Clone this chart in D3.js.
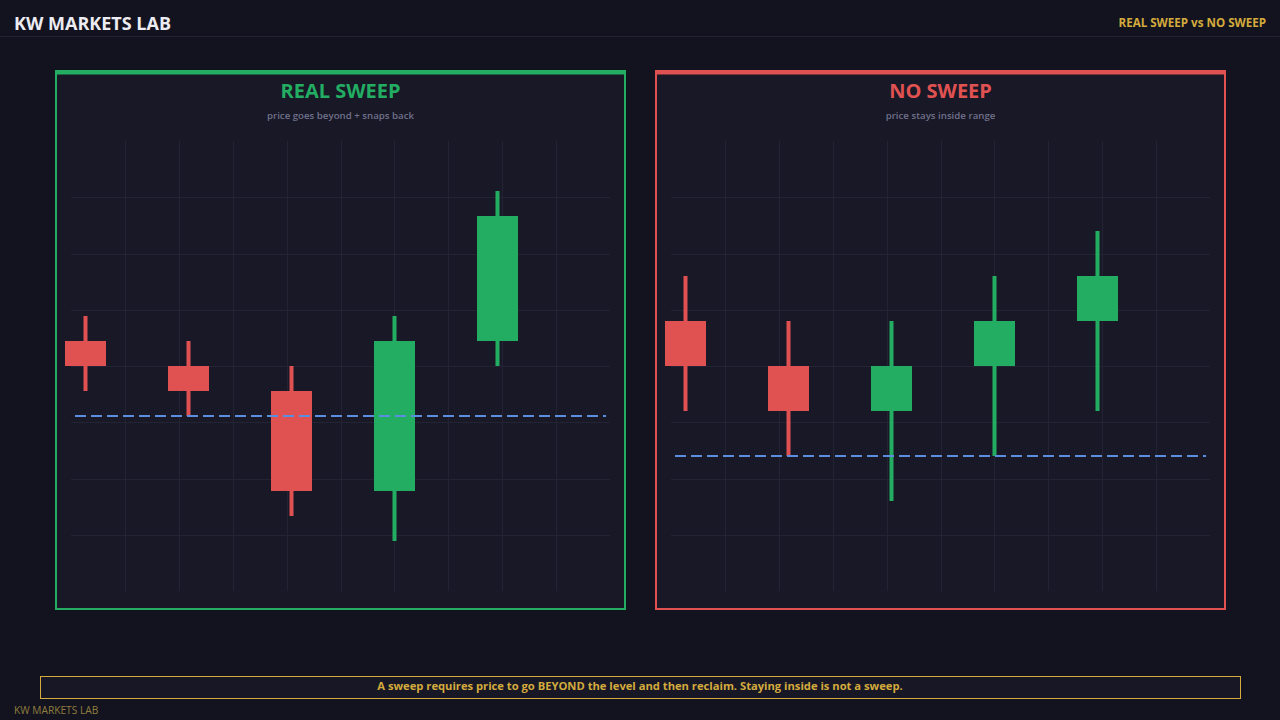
<!DOCTYPE html>
<html lang="en">
<head>
    <meta charset="UTF-8">
    <title>Real Sweep vs No Sweep</title>
    <style>
        body{
            margin: 0;
            background: #13131f;
        }
        svg{
            display: block;
            font-family: "Open Sans", "Noto Sans", sans-serif;
        }
    </style>
    <script src="https://cdn.jsdelivr.net/npm/d3@7"></script>
</head>
<body>
<script>
    // candles, index 0..4, values in price units
    const candleIdx = [0, 1, 2, 3, 4]

    const realOpen  = [103, 102, 101, 97, 103]
    const realClose = [102, 101, 97, 103, 108]
    const realHigh  = [104, 103, 102, 104, 109]
    const realLow   = [101, 100, 96, 95, 102]
    const realLevel = 100

    const noOpen  = [103, 102, 101, 102, 103]
    const noClose = [102, 101, 102, 103, 104]
    const noHigh  = [104, 103, 103, 104, 105]
    const noLow   = [101, 100, 99, 100, 101]
    const noLevel = 100

    const panelTitles = ["REAL SWEEP", "NO SWEEP"]
    const panelSubs = ["price goes beyond + snaps back", "price stays inside range"]

    const width = 1280
    const height = 720
    const green = "#22ad63"
    const red = "#e05252"
    const gold = "#d4ab3c"

    let svg = d3.select("body").append("svg")
        .attr("width", width)
        .attr("height", height)
        .attr("viewBox", `0 0 ${width} ${height}`)

    svg.append("rect").attr("width", width).attr("height", height).attr("fill", "#13131f")

    // header
    svg.append("text")
        .attr("x", 14).attr("y", 30)
        .attr("fill", "#ececf2")
        .attr("font-size", 18).attr("font-weight", 700)
        .text("KW MARKETS LAB")
    svg.append("text")
        .attr("x", 1266).attr("y", 27)
        .attr("text-anchor", "end")
        .attr("fill", gold)
        .attr("font-size", 11.6).attr("font-weight", 700)
        .text("REAL SWEEP vs NO SWEEP")
    svg.append("line")
        .attr("x1", 0).attr("x2", width)
        .attr("y1", 36.5).attr("y2", 36.5)
        .attr("stroke", "#222234")

    const panelW = 571
    const panelH = 540
    const plotTop = 141
    const plotBottom = 591

    const panels = [
        {title: panelTitles[0], sub: panelSubs[0], color: green, left: 55,
         o: realOpen, c: realClose, h: realHigh, l: realLow, level: realLevel},
        {title: panelTitles[1], sub: panelSubs[1], color: red, left: 655,
         o: noOpen, c: noClose, h: noHigh, l: noLow, level: noLevel}
    ]

    let gridX = d3.scaleLinear().domain([0, 10]).range([16, 555])
    let gridY = d3.scaleLinear().domain([0, 8]).range([plotTop, plotBottom])
    let x = d3.scaleLinear().domain([0, 4]).range([30.5, 442.5])
    const bodyW = 41
    const wickW = 4

    panels.forEach(p => {
        let g = svg.append("g").attr("transform", `translate(${p.left},70)`)

        g.append("rect")
            .attr("x", 1).attr("y", 1)
            .attr("width", panelW - 2).attr("height", panelH - 2)
            .attr("fill", "#181826")
            .attr("stroke", p.color).attr("stroke-width", 2)
        g.append("rect")
            .attr("width", panelW).attr("height", 4.5)
            .attr("fill", p.color)

        g.append("text")
            .attr("x", panelW / 2).attr("y", 27.5)
            .attr("text-anchor", "middle")
            .attr("fill", p.color)
            .attr("font-size", 20).attr("font-weight", 700)
            .text(p.title)
        g.append("text")
            .attr("x", panelW / 2).attr("y", 48.5)
            .attr("text-anchor", "middle")
            .attr("fill", "#70708a")
            .attr("font-size", 9.7).attr("font-weight", 600)
            .text(p.sub)

        // plot coords are page-y, so shift back
        let plot = g.append("g").attr("transform", "translate(0,-70)")

        plot.selectAll(".vgrid")
            .data(d3.range(1, 10))
            .enter()
            .append("line")
            .attr("x1", d => Math.round(gridX(d)) + 0.5)
            .attr("x2", d => Math.round(gridX(d)) + 0.5)
            .attr("y1", plotTop).attr("y2", plotBottom)
            .attr("stroke", "#232335")
        plot.selectAll(".hgrid")
            .data(d3.range(1, 8))
            .enter()
            .append("line")
            .attr("x1", gridX(0)).attr("x2", gridX(10))
            .attr("y1", d => Math.round(gridY(d)) + 0.5)
            .attr("y2", d => Math.round(gridY(d)) + 0.5)
            .attr("stroke", "#232335")

        let y = d3.scaleLinear()
            .domain([d3.min(p.l) - 2, d3.max(p.h) + 2])
            .range([plotBottom, plotTop])

        let candles = plot.selectAll(".candle")
            .data(candleIdx)
            .enter()
            .append("g")

        candles.append("rect")
            .attr("x", i => x(i) - wickW / 2)
            .attr("y", i => y(p.h[i]))
            .attr("width", wickW)
            .attr("height", i => y(p.l[i]) - y(p.h[i]))
            .attr("fill", i => p.c[i] >= p.o[i] ? green : red)
        candles.append("rect")
            .attr("x", i => x(i) - bodyW / 2)
            .attr("y", i => y(Math.max(p.o[i], p.c[i])))
            .attr("width", bodyW)
            .attr("height", i => Math.abs(y(p.o[i]) - y(p.c[i])))
            .attr("fill", i => p.c[i] >= p.o[i] ? green : red)

        plot.append("line")
            .attr("x1", 20).attr("x2", 551)
            .attr("y1", y(p.level)).attr("y2", y(p.level))
            .attr("stroke", "#5b8ee0")
            .attr("stroke-width", 2)
            .attr("stroke-dasharray", "11,5")
    })

    // bottom note
    svg.append("rect")
        .attr("x", 40.5).attr("y", 676.5)
        .attr("width", 1200).attr("height", 22)
        .attr("fill", "#171726")
        .attr("stroke", gold)
    svg.append("text")
        .attr("x", 640).attr("y", 690)
        .attr("text-anchor", "middle")
        .attr("fill", gold)
        .attr("font-size", 11.2).attr("font-weight", 700)
        .text("A sweep requires price to go BEYOND the level and then reclaim. Staying inside is not a sweep.")
    svg.append("text")
        .attr("x", 14).attr("y", 714)
        .attr("fill", "#8f7d3e")
        .attr("font-size", 10.2)
        .text("KW MARKETS LAB")
</script>
</body>
</html>
